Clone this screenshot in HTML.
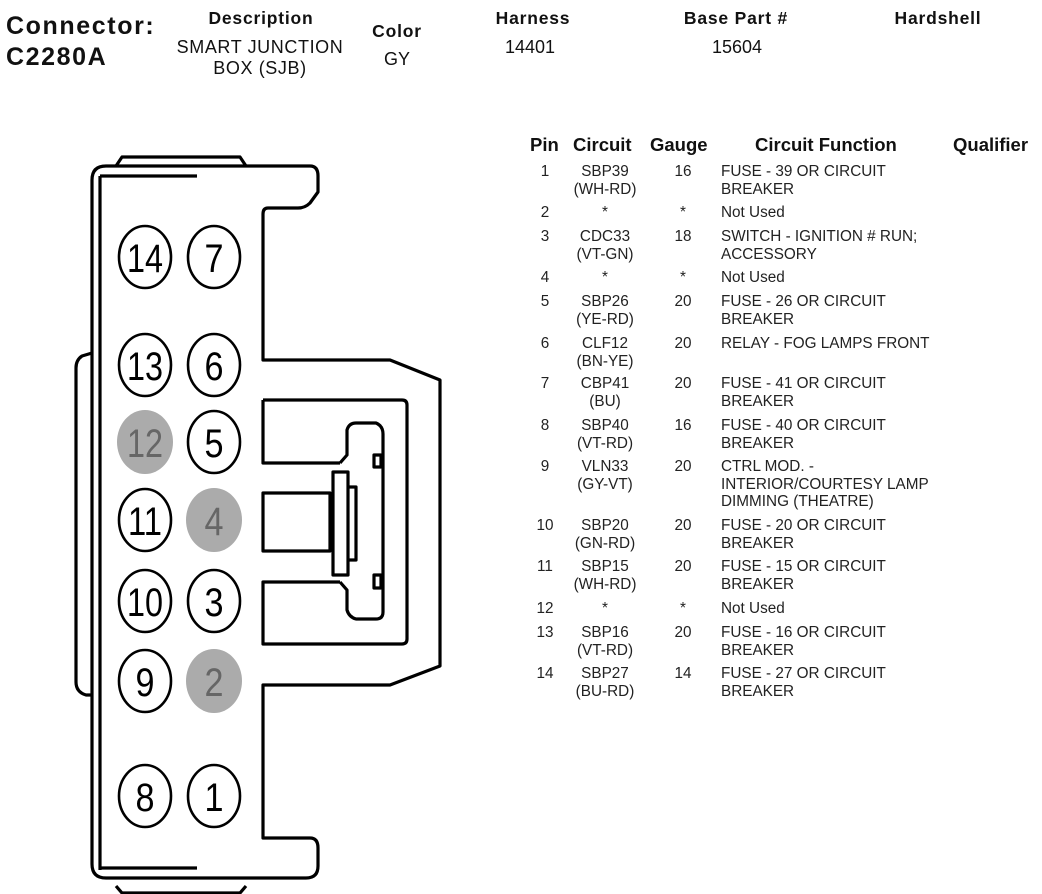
<!DOCTYPE html>
<html><head><meta charset="utf-8"><style>
body{margin:0;width:1042px;height:894px;background:#fff;overflow:hidden;position:relative;font-family:"Liberation Sans",Arial,sans-serif;color:#111}
.a{position:absolute;white-space:nowrap}
.c{transform:translateX(-50%);text-align:center}
.h{font-weight:bold;font-size:17.5px;letter-spacing:0.8px}
.th{font-weight:bold;font-size:18.5px}
.t{font-size:15.3px;color:#222;line-height:17.5px}
</style></head><body>
<div class="a" style="left:6px;top:11px;font-weight:bold;font-size:25px;line-height:31px;letter-spacing:1.6px">Connector:<br>C2280A</div>
<div class="a c h" style="left:261px;top:8px">Description</div>
<div class="a c" style="left:260px;top:37px;font-size:18px;line-height:21px;letter-spacing:0.6px">SMART JUNCTION<br>BOX (SJB)</div>
<div class="a c h" style="left:397px;top:21px">Color</div>
<div class="a c" style="left:397px;top:49px;font-size:18px">GY</div>
<div class="a c h" style="left:533px;top:8px">Harness</div>
<div class="a c" style="left:530px;top:37px;font-size:18px">14401</div>
<div class="a c h" style="left:736px;top:8px">Base Part #</div>
<div class="a c" style="left:737px;top:37px;font-size:18px">15604</div>
<div class="a c h" style="left:938px;top:8px">Hardshell</div>

<svg class="a" style="left:0;top:0" width="1042" height="894">
<g fill="none" stroke="#000" stroke-width="3.2" stroke-linejoin="round">
<path d="M116,166 L122,157 L240,157 L246,166"/>
<path d="M116,886 L122,893 L240,893 L246,886"/>
<path d="M92,180 Q92,166 106,166 L310,166 Q318,166 318,176 L318,192 L310,203 Q305,208 298,208 L268,208 Q263,208 263,214 L263,360 L390,360 L440,380 L440,666 L390,685 L263,685 L263,838 L310,838 Q318,838 318,848 L318,866 Q318,878 306,878 L106,878 Q92,878 92,864 Z"/>
<path d="M100,176 L100,870 M100,176 L197,176 M100,868 L197,868"/>
<path d="M92,353 L82,356 Q76,360 76,368 L76,682 Q76,692 86,695 L92,695"/>
<path d="M263,400 L402,400 Q407,400 407,405 L407,639 Q407,644 402,644 L263,644 L263,582 L340,582"/>
<path d="M263,400 L263,463 L340,463"/>
<path d="M263,493 L330,493 L330,551 L263,551 Z"/>
<path d="M340,463 L347,455 L347,430 Q349,423 356,423 L376,423 Q383,426 383,434 L383,612 Q383,619 376,619 L356,619 Q349,617 347,610 L347,590 L340,582"/>
<path d="M333,472 L348,472 L348,575 L333,575 Z"/>
<path d="M348,487 L356,487 L356,560 L348,560"/>
<path d="M374,455 L381,455 L381,467 L374,467 Z M374,575 L381,575 L381,588 L374,588 Z"/>
</g>
<g font-family="Liberation Sans,Arial,sans-serif" font-size="40" text-anchor="middle">
<g stroke="#000" stroke-width="2.6" fill="#fff">
<ellipse cx="145" cy="257" rx="26" ry="31"/><ellipse cx="214" cy="257" rx="26" ry="31"/>
<ellipse cx="145" cy="365" rx="26" ry="31"/><ellipse cx="214" cy="365" rx="26" ry="31"/>
<ellipse cx="214" cy="442" rx="26" ry="31"/>
<ellipse cx="145" cy="520" rx="26" ry="31"/>
<ellipse cx="145" cy="601" rx="26" ry="31"/><ellipse cx="214" cy="601" rx="26" ry="31"/>
<ellipse cx="145" cy="681" rx="26" ry="31"/>
<ellipse cx="145" cy="796" rx="26" ry="31"/><ellipse cx="214" cy="796" rx="26" ry="31"/>
</g>
<g fill="#ababab">
<ellipse cx="145" cy="442" rx="28" ry="32"/><ellipse cx="214" cy="520" rx="28" ry="32"/><ellipse cx="214" cy="681" rx="28" ry="32"/>
</g>
<g fill="#000">
<text x="145" y="272" textLength="36" lengthAdjust="spacingAndGlyphs">14</text><text x="214" y="272" textLength="19" lengthAdjust="spacingAndGlyphs">7</text>
<text x="145" y="380" textLength="36" lengthAdjust="spacingAndGlyphs">13</text><text x="214" y="380" textLength="19" lengthAdjust="spacingAndGlyphs">6</text>
<text x="214" y="457" textLength="19" lengthAdjust="spacingAndGlyphs">5</text>
<text x="145" y="535" textLength="34" lengthAdjust="spacingAndGlyphs">11</text>
<text x="145" y="616" textLength="36" lengthAdjust="spacingAndGlyphs">10</text><text x="214" y="616" textLength="19" lengthAdjust="spacingAndGlyphs">3</text>
<text x="145" y="696" textLength="19" lengthAdjust="spacingAndGlyphs">9</text>
<text x="145" y="811" textLength="19" lengthAdjust="spacingAndGlyphs">8</text><text x="214" y="811" textLength="19" lengthAdjust="spacingAndGlyphs">1</text>
</g>
<g fill="#666">
<text x="145" y="457" textLength="36" lengthAdjust="spacingAndGlyphs">12</text><text x="214" y="535" textLength="19" lengthAdjust="spacingAndGlyphs">4</text><text x="214" y="696" textLength="19" lengthAdjust="spacingAndGlyphs">2</text>
</g>
</g>
</svg>

<div class="a th" style="left:530px;top:134px">Pin</div>
<div class="a th" style="left:573px;top:134px">Circuit</div>
<div class="a th" style="left:650px;top:134px">Gauge</div>
<div class="a th" style="left:755px;top:134px">Circuit Function</div>
<div class="a th" style="left:953px;top:134px">Qualifier</div>

<div class="a t c" style="left:545px;top:163px">1</div><div class="a t c" style="left:605px;top:163px">SBP39<br>(WH-RD)</div><div class="a t c" style="left:683px;top:163px">16</div><div class="a t" style="left:721px;top:163px">FUSE - 39 OR CIRCUIT<br>BREAKER</div>
<div class="a t c" style="left:545px;top:204px">2</div><div class="a t c" style="left:605px;top:204px">*</div><div class="a t c" style="left:683px;top:204px">*</div><div class="a t" style="left:721px;top:204px">Not Used</div>
<div class="a t c" style="left:545px;top:228px">3</div><div class="a t c" style="left:605px;top:228px">CDC33<br>(VT-GN)</div><div class="a t c" style="left:683px;top:228px">18</div><div class="a t" style="left:721px;top:228px">SWITCH - IGNITION # RUN;<br>ACCESSORY</div>
<div class="a t c" style="left:545px;top:269px">4</div><div class="a t c" style="left:605px;top:269px">*</div><div class="a t c" style="left:683px;top:269px">*</div><div class="a t" style="left:721px;top:269px">Not Used</div>
<div class="a t c" style="left:545px;top:293px">5</div><div class="a t c" style="left:605px;top:293px">SBP26<br>(YE-RD)</div><div class="a t c" style="left:683px;top:293px">20</div><div class="a t" style="left:721px;top:293px">FUSE - 26 OR CIRCUIT<br>BREAKER</div>
<div class="a t c" style="left:545px;top:335px">6</div><div class="a t c" style="left:605px;top:335px">CLF12<br>(BN-YE)</div><div class="a t c" style="left:683px;top:335px">20</div><div class="a t" style="left:721px;top:335px">RELAY - FOG LAMPS FRONT</div>
<div class="a t c" style="left:545px;top:375px">7</div><div class="a t c" style="left:605px;top:375px">CBP41<br>(BU)</div><div class="a t c" style="left:683px;top:375px">20</div><div class="a t" style="left:721px;top:375px">FUSE - 41 OR CIRCUIT<br>BREAKER</div>
<div class="a t c" style="left:545px;top:417px">8</div><div class="a t c" style="left:605px;top:417px">SBP40<br>(VT-RD)</div><div class="a t c" style="left:683px;top:417px">16</div><div class="a t" style="left:721px;top:417px">FUSE - 40 OR CIRCUIT<br>BREAKER</div>
<div class="a t c" style="left:545px;top:458px">9</div><div class="a t c" style="left:605px;top:458px">VLN33<br>(GY-VT)</div><div class="a t c" style="left:683px;top:458px">20</div><div class="a t" style="left:721px;top:458px">CTRL MOD. -<br>INTERIOR/COURTESY LAMP<br>DIMMING (THEATRE)</div>
<div class="a t c" style="left:545px;top:517px">10</div><div class="a t c" style="left:605px;top:517px">SBP20<br>(GN-RD)</div><div class="a t c" style="left:683px;top:517px">20</div><div class="a t" style="left:721px;top:517px">FUSE - 20 OR CIRCUIT<br>BREAKER</div>
<div class="a t c" style="left:545px;top:558px">11</div><div class="a t c" style="left:605px;top:558px">SBP15<br>(WH-RD)</div><div class="a t c" style="left:683px;top:558px">20</div><div class="a t" style="left:721px;top:558px">FUSE - 15 OR CIRCUIT<br>BREAKER</div>
<div class="a t c" style="left:545px;top:600px">12</div><div class="a t c" style="left:605px;top:600px">*</div><div class="a t c" style="left:683px;top:600px">*</div><div class="a t" style="left:721px;top:600px">Not Used</div>
<div class="a t c" style="left:545px;top:624px">13</div><div class="a t c" style="left:605px;top:624px">SBP16<br>(VT-RD)</div><div class="a t c" style="left:683px;top:624px">20</div><div class="a t" style="left:721px;top:624px">FUSE - 16 OR CIRCUIT<br>BREAKER</div>
<div class="a t c" style="left:545px;top:665px">14</div><div class="a t c" style="left:605px;top:665px">SBP27<br>(BU-RD)</div><div class="a t c" style="left:683px;top:665px">14</div><div class="a t" style="left:721px;top:665px">FUSE - 27 OR CIRCUIT<br>BREAKER</div>
</body></html>
